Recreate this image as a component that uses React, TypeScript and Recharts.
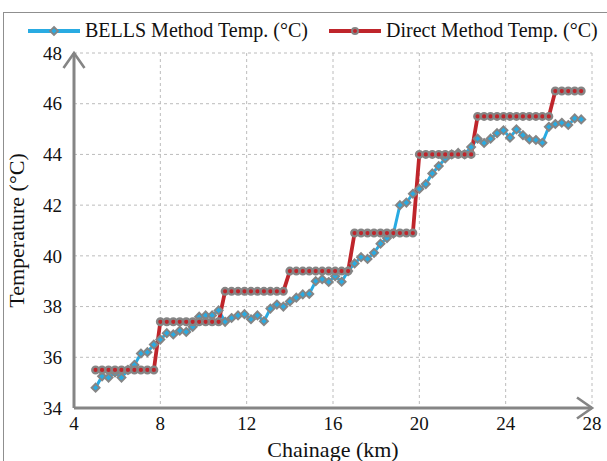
import React from "react";
import { LineChart, Line, XAxis, YAxis, CartesianGrid } from "recharts";

const chainage = [
  5.0, 5.3, 5.6, 5.9, 6.2, 6.5, 6.8, 7.1, 7.4, 7.7,
  8.0, 8.3, 8.6, 8.9, 9.2, 9.5, 9.8, 10.1, 10.4, 10.7,
  11.0, 11.3, 11.6, 11.9, 12.2, 12.5, 12.8, 13.1, 13.4, 13.7,
  14.0, 14.3, 14.6, 14.9, 15.2, 15.5, 15.8, 16.1, 16.4, 16.7,
  17.0, 17.3, 17.6, 17.9, 18.2, 18.5, 18.8, 19.1, 19.4, 19.7,
  20.0, 20.3, 20.6, 20.9, 21.2, 21.5, 21.8, 22.1, 22.4, 22.7,
  23.0, 23.3, 23.6, 23.9, 24.2, 24.5, 24.8, 25.1, 25.4, 25.7,
  26.0, 26.3, 26.6, 26.9, 27.2, 27.5,
];

const bellsTemp = [
  34.8, 35.25, 35.2, 35.4, 35.2, 35.5, 35.7, 36.15, 36.2, 36.5,
  36.7, 36.95, 36.9, 37.05, 37.0, 37.2, 37.6, 37.65, 37.65, 37.85,
  37.4, 37.55, 37.65, 37.7, 37.5, 37.65, 37.42, 37.92, 38.08, 38.0,
  38.2, 38.35, 38.48, 38.5, 39.0, 39.08, 38.97, 39.2, 38.98, 39.4,
  39.7, 39.95, 39.88, 40.12, 40.48, 40.7, 40.88, 42.0, 42.1, 42.45,
  42.64, 42.83, 43.25, 43.54, 43.84, 44.0, 44.06, 44.0, 44.29, 44.62,
  44.45, 44.62, 44.84, 44.95, 44.66, 44.99, 44.76, 44.59, 44.57, 44.46,
  45.09, 45.2, 45.25, 45.16, 45.42, 45.38,
];

const directTemp = [
  35.5, 35.5, 35.5, 35.5, 35.5, 35.5, 35.5, 35.5, 35.5, 35.5,
  37.4, 37.4, 37.4, 37.4, 37.4, 37.4, 37.4, 37.4, 37.4, 37.4,
  38.6, 38.6, 38.6, 38.6, 38.6, 38.6, 38.6, 38.6, 38.6, 38.6,
  39.4, 39.4, 39.4, 39.4, 39.4, 39.4, 39.4, 39.4, 39.4, 39.4,
  40.9, 40.9, 40.9, 40.9, 40.9, 40.9, 40.9, 40.9, 40.9, 40.9,
  44.0, 44.0, 44.0, 44.0, 44.0, 44.0, 44.0, 44.0, 44.0, 45.5,
  45.5, 45.5, 45.5, 45.5, 45.5, 45.5, 45.5, 45.5, 45.5, 45.5,
  45.5, 46.5, 46.5, 46.5, 46.5, 46.5,
];

const xTicks = [4, 8, 12, 16, 20, 24, 28];
const yTicks = [34, 36, 38, 40, 42, 44, 46, 48];

const seriesNames = ["BELLS Method Temp. (°C)", "Direct Method Temp. (°C)"];
const xTitle = "Chainage (km)";
const yTitle = "Temperature (°C)";

const data = chainage.map((km, i) => ({
  km,
  bells: bellsTemp[i],
  direct: directTemp[i],
}));

const BLUE = "#29abe2";
const RED = "#bf252b";
const GREY = "#858585";
const FONT = "'Liberation Serif', 'Times New Roman', serif";

const Diamond = (props: any) => {
  const { cx, cy } = props;
  if (cx == null || cy == null) return null;
  const s = 4;
  return (
    <path
      d={`M${cx},${cy - s} L${cx + s},${cy} L${cx},${cy + s} L${cx - s},${cy} Z`}
      fill={BLUE}
      stroke={GREY}
      strokeWidth={1.9}
    />
  );
};

export default function App() {
  return (
    <div
      style={{
        position: "fixed",
        left: 0,
        top: 0,
        width: 607,
        height: 461,
        overflow: "hidden",
        background: "#fff",
      }}
    >
      <div
        style={{
          position: "absolute",
          left: 3,
          top: 12,
          width: 700,
          height: 600,
          border: "1.5px solid #8f8f8f",
        }}
      />
      <svg
        width={607}
        height={50}
        style={{ position: "absolute", left: 0, top: 0, overflow: "visible" }}
      >
        <defs>
          <marker
            id="axisArrow"
            viewBox="0 0 40 30"
            markerWidth={40}
            markerHeight={30}
            refX={30}
            refY={15}
            orient="auto-start-reverse"
            markerUnits="userSpaceOnUse"
          >
            <path d="M15 4.5 L30 15 L15 25.5" fill="none" stroke={GREY} strokeWidth={2.6} />
          </marker>
        </defs>
        <line x1={28} y1={31} x2={80} y2={31} stroke={BLUE} strokeWidth={4} />
        <path d="M54,27 L58,31 L54,35 L50,31 Z" fill={BLUE} stroke={GREY} strokeWidth={1.8} />
        <text x={85} y={37} fontFamily={FONT} fontSize={20} fill="#111">
          {seriesNames[0]}
        </text>
        <line x1={329} y1={31} x2={381} y2={31} stroke={RED} strokeWidth={4} />
        <circle cx={355} cy={31} r={3} fill={RED} stroke={GREY} strokeWidth={2} />
        <text x={386} y={37} fontFamily={FONT} fontSize={20} fill="#111">
          {seriesNames[1]}
        </text>
      </svg>
      <div style={{ position: "absolute", left: 0, top: 0 }}>
        <LineChart
          width={607}
          height={461}
          data={data}
          margin={{ top: 53, right: 15, bottom: 0, left: 0 }}
        >
          <CartesianGrid stroke="#bcbcbc" strokeDasharray="3 3" strokeWidth={1} />
          <XAxis
            dataKey="km"
            type="number"
            domain={[4, 28]}
            ticks={xTicks}
            height={53}
            tickLine={false}
            tickSize={0}
            tickMargin={9}
            axisLine={{ stroke: GREY, strokeWidth: 3, markerEnd: "url(#axisArrow)" }}
            tick={{ fill: "#111", fontSize: 19, fontFamily: FONT }}
            label={{
              value: xTitle,
              position: "insideBottom",
              offset: 4,
              style: { fill: "#111", fontSize: 22, fontFamily: FONT },
            }}
          />
          <YAxis
            type="number"
            domain={[34, 48]}
            ticks={yTicks}
            width={74}
            tickLine={false}
            tickSize={0}
            tickMargin={12}
            axisLine={{ stroke: GREY, strokeWidth: 3, markerStart: "url(#axisArrow)" }}
            tick={{ fill: "#111", fontSize: 19, fontFamily: FONT }}
            label={{
              value: yTitle,
              angle: -90,
              position: "insideLeft",
              offset: 16,
              style: { fill: "#111", fontSize: 22, fontFamily: FONT, textAnchor: "middle" },
            }}
          />
          <Line
            type="linear"
            dataKey="bells"
            stroke={BLUE}
            strokeWidth={3}
            dot={<Diamond />}
            isAnimationActive={false}
          />
          <Line
            type="linear"
            dataKey="direct"
            stroke={RED}
            strokeWidth={3.8}
            dot={{ r: 3.3, fill: RED, stroke: GREY, strokeWidth: 2.4 }}
            isAnimationActive={false}
          />
        </LineChart>
      </div>
    </div>
  );
}
